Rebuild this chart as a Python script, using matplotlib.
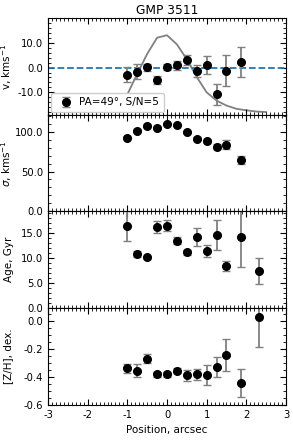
import numpy as np
import matplotlib
matplotlib.use("Agg")
import matplotlib.pyplot as plt
from matplotlib.ticker import AutoMinorLocator, MultipleLocator, FormatStrFormatter

plt.rcParams['axes.unicode_minus'] = False

# positions along the slit, arcsec
pos = [-1.0, -0.75, -0.5, -0.25, 0.0, 0.25, 0.5, 0.75, 1.0, 1.25, 1.5, 1.86]
pos_pop = pos + [2.33]

# kinematics
vel = [-2.8, -1.6, 0.1, -4.9, 0.1, 0.9, 3.1, -1.5, 1.1, -10.8, -1.2, 2.1]
vel_err = [3.0, 3.0, 1.3, 1.6, 1.2, 1.7, 2.1, 2.4, 3.7, 4.2, 6.1, 6.0]
sig = [92.5, 101.2, 107.5, 105.0, 109.6, 107.9, 99.2, 91.2, 88.7, 81.2, 83.7, 64.6]
sig_err = [2.0, 2.0, 1.5, 1.5, 1.5, 1.5, 1.5, 2.0, 2.5, 3.5, 5.5, 5.0]

# model rotation curve
mod_x = [-1.0, -0.75, -0.5, -0.25, 0.0, 0.25, 0.5, 0.75, 1.0, 1.25, 1.5, 1.75, 2.0, 2.25, 2.5]
mod_v = [-10.8, -2.5, 5.5, 12.0, 13.0, 9.3, 3.3, -3.8, -10.0, -13.3, -15.3, -16.6, -17.2, -17.7, -17.9]

# stellar populations
age = [16.5, 10.9, 10.2, 16.3, 16.5, 13.5, 11.2, 14.2, 11.5, 14.6, 8.5, 14.2, 7.5]
age_err = [3.0, 0.6, 0.3, 1.2, 1.1, 0.7, 0.5, 1.8, 1.2, 3.0, 1.0, 5.9, 2.6]
zh = [-0.34, -0.355, -0.27, -0.383, -0.383, -0.355, -0.388, -0.383, -0.388, -0.33, -0.242, -0.445, 0.03]
zh_err = [0.03, 0.045, 0.03, 0.015, 0.015, 0.02, 0.04, 0.04, 0.07, 0.07, 0.115, 0.10, 0.22]

ebar_kw = dict(fmt='o', color='black', ms=5.5, ecolor='#808080', elinewidth=1.3, capsize=3, capthick=1.0)

fig, axes = plt.subplots(4, 1, sharex=True, figsize=(2.93, 4.41), dpi=100)
plt.subplots_adjust(left=0.164, right=0.976, top=0.959, bottom=0.082, hspace=0)

ax = axes[0]
ax.plot(mod_x, mod_v, color='#808080', lw=1.3, zorder=1)
ax.axhline(0, color='#1f77b4', ls='--', lw=1.3, zorder=2)
ax.errorbar(pos, vel, yerr=vel_err, label='PA=49°, S/N=5', zorder=3, **ebar_kw)
ax.set_ylim(-19, 19.9)
ax.set_ylabel('v, kms$^{-1}$', fontsize=7.5)
ax.set_title('GMP 3511', fontsize=8.8, pad=3)
leg = ax.legend(loc='lower left', fontsize=7.5, borderpad=0.45, handletextpad=0.3,
                borderaxespad=0.25, framealpha=1)
ax.yaxis.set_major_locator(MultipleLocator(10))

ax = axes[1]
ax.errorbar(pos, sig, yerr=sig_err, **ebar_kw)
ax.set_ylim(0, 121)
ax.set_ylabel('$\\sigma$, kms$^{-1}$', fontsize=7.5)
ax.yaxis.set_major_locator(MultipleLocator(50))

ax = axes[2]
ax.errorbar(pos_pop, age, yerr=age_err, **ebar_kw)
ax.set_ylim(0, 19.4)
ax.set_ylabel('Age, Gyr', fontsize=7.5)
ax.yaxis.set_major_locator(MultipleLocator(5))

ax = axes[3]
ax.errorbar(pos_pop, zh, yerr=zh_err, **ebar_kw)
ax.set_ylim(-0.6, 0.09)
ax.set_ylabel('[Z/H], dex.', fontsize=7.5)
ax.yaxis.set_major_locator(MultipleLocator(0.2))
ax.set_xlabel('Position, arcsec', fontsize=7.5)
ax.set_xlim(-3, 3)
ax.xaxis.set_major_locator(MultipleLocator(1))
ax.xaxis.set_minor_locator(MultipleLocator(0.1))

for ax in axes:
    ax.yaxis.set_major_formatter(FormatStrFormatter('%.1f'))
    ax.yaxis.set_minor_locator(AutoMinorLocator())
    ax.tick_params(which='both', direction='in', top=True, right=True, labelsize=7.2)
    ax.tick_params(which='major', length=4)
    ax.tick_params(which='minor', length=2)
    ax.yaxis.set_label_coords(-0.145, 0.5)

fig.savefig('out.png', dpi=100)
